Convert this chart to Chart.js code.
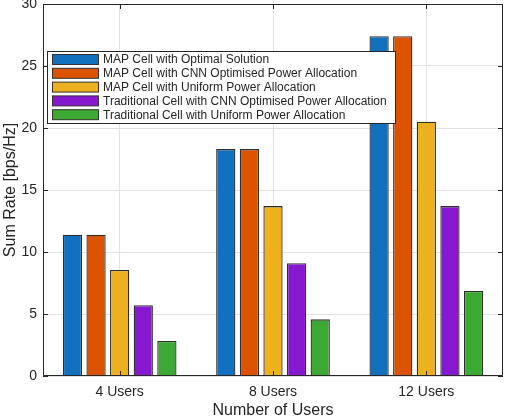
<!DOCTYPE html>
<html>
<head>
<meta charset="utf-8">
<script src="https://cdn.jsdelivr.net/npm/chart.js@4.4.0/dist/chart.umd.min.js"></script>
<style>
  html, body { margin: 0; padding: 0; background: #fff; }
  #wrap { width: 506px; height: 420px; }
</style>
</head>
<body>
<div id="wrap"><canvas id="bar_chart"></canvas></div>
<script>
var categories = ['4 Users', '8 Users', '12 Users'];
var series_names = [
    'MAP Cell with Optimal Solution',
    'MAP Cell with CNN Optimised Power Allocation',
    'MAP Cell with Uniform Power Allocation',
    'Traditional Cell with CNN Optimised Power Allocation',
    'Traditional Cell with Uniform Power Allocation'
];
var optimal_vals = [11.4, 18.3, 27.4];
var map_cnn_vals = [11.4, 18.3, 27.4];
var map_uniform_vals = [8.55, 13.7, 20.5];
var trad_cnn_vals = [5.7, 9.1, 13.7];
var trad_uniform_vals = [2.82, 4.57, 6.85];
var y_ticks = [0, 5, 10, 15, 20, 25, 30];

var colors = ['#1171BE', '#DB5300', '#EDB120', '#8618CF', '#3BA934'];
var all_vals = [optimal_vals, map_cnn_vals, map_uniform_vals, trad_cnn_vals, trad_uniform_vals];

var datasets = [];
for (idx = 0; idx < all_vals.length; idx++) {
    datasets.push({
        label: series_names[idx],
        data: all_vals[idx],
        backgroundColor: colors[idx],
        borderColor: '#2f2f2f',
        borderWidth: 1.3,
        barPercentage: 0.815,
        categoryPercentage: 0.77
    });
}

var textColor = '#262626';

// matlab style box with inner ticks, and legend inside the axes
var boxPlugin = {
    id: 'matlabBox',
    afterDatasetsDraw: function(chart) {
        var c = chart.ctx;
        var a = chart.chartArea;
        var xs = chart.scales.x, ys = chart.scales.y;
        c.save();
        c.strokeStyle = textColor;
        c.lineWidth = 1;
        c.beginPath();
        c.rect(Math.round(a.left) + 0.5, Math.round(a.top) + 0.5,
               Math.round(a.right - a.left) - 1, Math.round(a.bottom - a.top) - 1);
        c.stroke();
        var t = 5;
        c.beginPath();
        for (var i = 0; i < y_ticks.length; i++) {
            var py = Math.round(ys.getPixelForValue(y_ticks[i])) + 0.5;
            c.moveTo(a.left, py); c.lineTo(a.left + t, py);
            c.moveTo(a.right, py); c.lineTo(a.right - t, py);
        }
        for (var j = 0; j < categories.length; j++) {
            var px = Math.round(xs.getPixelForValue(j)) + 0.5;
            c.moveTo(px, a.bottom); c.lineTo(px, a.bottom - t);
            c.moveTo(px, a.top); c.lineTo(px, a.top + t);
        }
        c.stroke();

        // legend
        var lx = 47.5, ly = 51.5, lw = 348, lh = 72;
        c.fillStyle = '#ffffff';
        c.fillRect(lx, ly, lw, lh);
        c.strokeStyle = textColor;
        c.strokeRect(lx, ly, lw, lh);
        c.font = '12px "Liberation Sans", Arial, sans-serif';
        c.textBaseline = 'middle';
        c.textAlign = 'left';
        chart.data.datasets.forEach(function(ds, k) {
            var ry = 54.5 + k * 13.8;
            c.fillStyle = ds.backgroundColor;
            c.fillRect(52.5, ry, 46, 10);
            c.strokeStyle = '#333333';
            c.strokeRect(52.5, ry, 46, 10);
            c.fillStyle = textColor;
            c.fillText(ds.label, 103, ry + 5.5);
        });
        c.restore();
    }
};

var ctx = document.getElementById('bar_chart');
var myChart = new Chart(ctx, {
    type: 'bar',
    data: {
        labels: categories,
        datasets: datasets
    },
    plugins: [boxPlugin],
    options: {
        responsive: true,
        maintainAspectRatio: false,
        animation: false,
        layout: {
            padding: { top: 4, right: 3, left: 0, bottom: 0 }
        },
        plugins: {
            legend: { display: false },
            tooltip: { enabled: false }
        },
        scales: {
            x: {
                afterFit: function(scale) {
                    scale.height = 44;
                    scale.paddingLeft = 0;
                    scale.paddingRight = 0;
                },
                grid: {
                    offset: false,
                    drawTicks: false,
                    color: '#e3e3e3'
                },
                border: { display: false },
                ticks: {
                    padding: 8,
                    color: textColor,
                    font: { family: '"Liberation Sans", Arial, sans-serif', size: 14 }
                },
                title: {
                    display: true,
                    text: 'Number of Users',
                    color: textColor,
                    padding: { top: 0, bottom: 0 },
                    font: { family: '"Liberation Sans", Arial, sans-serif', size: 16 }
                }
            },
            y: {
                min: 0,
                max: 30,
                afterFit: function(scale) {
                    scale.width = 43;
                    scale.paddingTop = 0;
                    scale.paddingBottom = 0;
                },
                afterBuildTicks: function(scale) {
                    scale.ticks = y_ticks.map(function(v) { return { value: v }; });
                },
                grid: {
                    drawTicks: false,
                    color: '#e3e3e3'
                },
                border: { display: false },
                ticks: {
                    padding: 6,
                    color: textColor,
                    font: { family: '"Liberation Sans", Arial, sans-serif', size: 14 }
                },
                title: {
                    display: true,
                    text: 'Sum Rate [bps/Hz]',
                    color: textColor,
                    padding: { top: 1, bottom: 0 },
                    font: { family: '"Liberation Sans", Arial, sans-serif', size: 16 }
                }
            }
        }
    }
});
</script>
</body>
</html>
